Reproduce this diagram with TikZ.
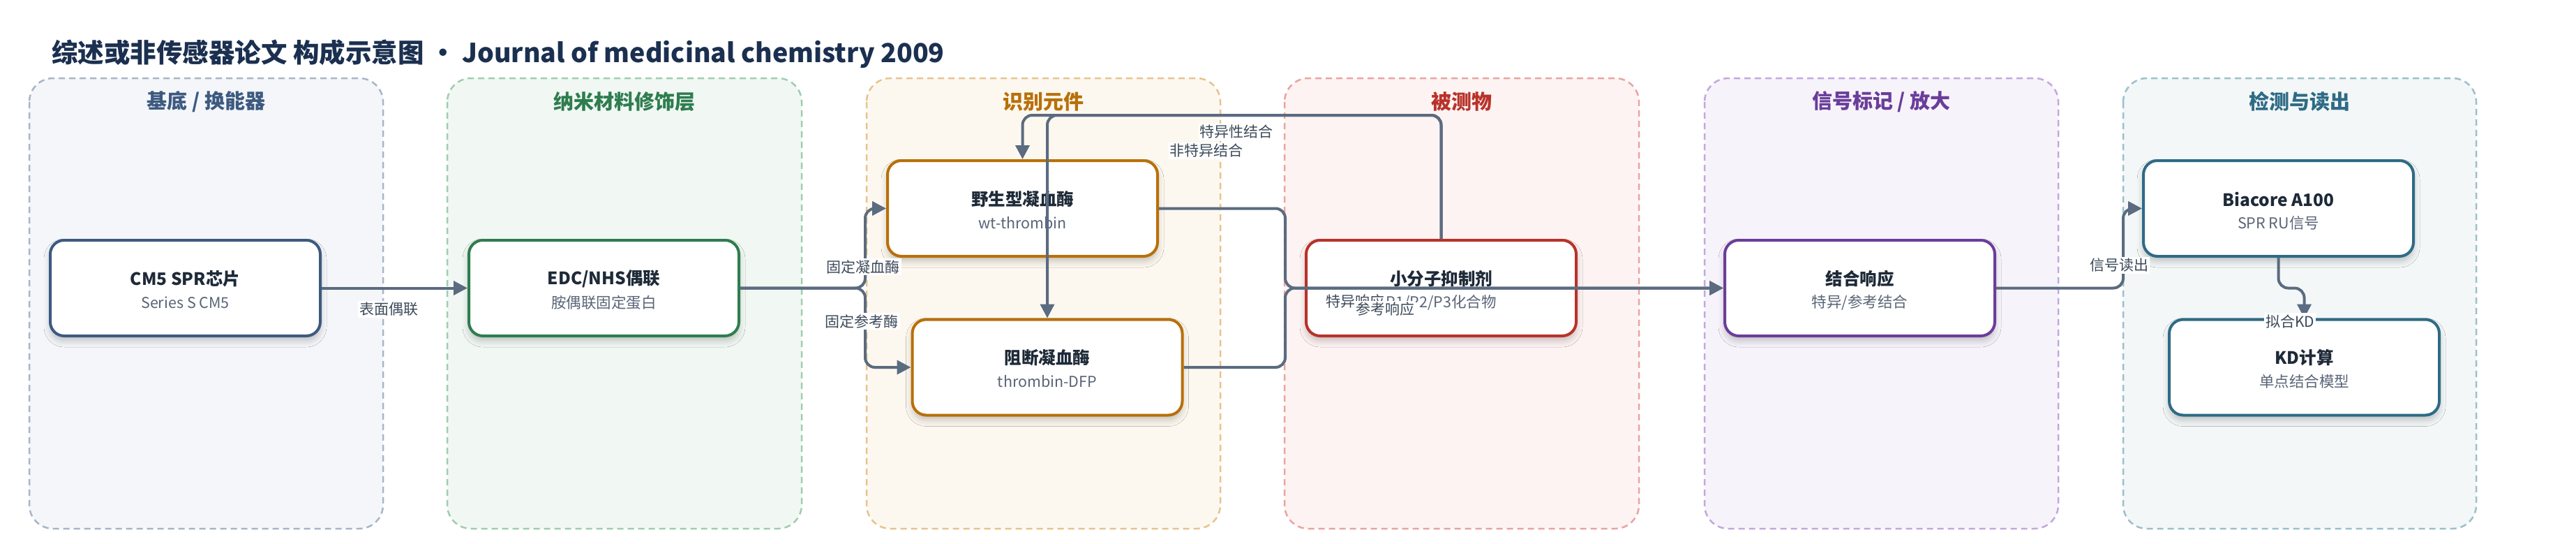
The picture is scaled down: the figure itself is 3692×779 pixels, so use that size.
\documentclass[tikz,border=0pt]{standalone}
\usepackage{fontspec}
\setmainfont{Noto Sans CJK SC}
\usetikzlibrary{arrows.meta,shadows.blur,calc}
\definecolor{titlec}{HTML}{1B3050}
\definecolor{pf1}{HTML}{F4F6FA}\definecolor{pb1}{HTML}{A8B5C8}\definecolor{pt1}{HTML}{3D5A80}
\definecolor{pf2}{HTML}{F1F8F3}\definecolor{pb2}{HTML}{9FCDB0}\definecolor{pt2}{HTML}{2E7D4F}
\definecolor{pf3}{HTML}{FDF8EF}\definecolor{pb3}{HTML}{E6C48F}\definecolor{pt3}{HTML}{B8700A}
\definecolor{pf4}{HTML}{FDF3F2}\definecolor{pb4}{HTML}{E8A5A0}\definecolor{pt4}{HTML}{B8322A}
\definecolor{pf5}{HTML}{F7F3FB}\definecolor{pb5}{HTML}{C3A8DC}\definecolor{pt5}{HTML}{6A3D9A}
\definecolor{pf6}{HTML}{F3F7F8}\definecolor{pb6}{HTML}{9CBFCC}\definecolor{pt6}{HTML}{2E6B85}
\definecolor{ec}{HTML}{5B6B80}
\definecolor{ntc}{HTML}{1E2A38}
\definecolor{nsc}{HTML}{5A6577}
\definecolor{lc}{HTML}{3D4A5A}
\newcommand{\mkbox}[7]{%
  \node[nbox, draw=#4] (#1) at (#2,#3) {};
  \node[ntitle] (#1t) at ($(#1)+(0,-13.5)$) {#5};
  \node[nsub] (#1s) at ($(#1)+(0,20.5)$) {#6};
}
\begin{document}
\begin{tikzpicture}[x=1pt,y=-1pt,
  panel/.style={line width=2.5pt, dash pattern=on 9pt off 6pt, rounded corners=34pt},
  ptitle/.style={font=\fontsize{29}{34}\selectfont\bfseries, inner sep=0pt},
  nbox/.style={line width=4pt, fill=white, rounded corners=20pt, minimum width=387pt, minimum height=137pt, inner sep=0pt,
     blur shadow={shadow xshift=0pt, shadow yshift=-7pt, shadow blur radius=9pt, shadow opacity=22}},
  ntitle/.style={font=\fontsize{24.5}{28}\selectfont\bfseries, text=ntc, inner sep=0pt},
  nsub/.style={font=\fontsize{21.5}{24}\selectfont, text=nsc, inner sep=0pt},
  conn/.style={draw=ec, line width=4pt, rounded corners=14pt, -{Triangle[length=20pt,width=20pt]}},
  elabel/.style={fill=white, inner sep=2pt, text=lc, font=\fontsize{21}{24}\selectfont}]
\useasboundingbox (0,0) rectangle (3692,779);
\fill[white] (0,0) rectangle (3692,779);

\node[anchor=west, font=\fontsize{37.5}{42}\selectfont\bfseries, text=titlec, inner sep=0pt] (title) at (74,77)
  {综述或非传感器论文 构成示意图 • Journal of medicinal chemistry 2009};

% panels
\draw[panel, draw=pb1, fill=pf1] (42,112) rectangle (549,757);
\draw[panel, draw=pb2, fill=pf2] (641,112) rectangle (1149,757);
\draw[panel, draw=pb3, fill=pf3] (1242,112) rectangle (1749,757);
\draw[panel, draw=pb4, fill=pf4] (1841,112) rectangle (2349,757);
\draw[panel, draw=pb5, fill=pf5] (2443,112) rectangle (2950,757);
\draw[panel, draw=pb6, fill=pf6] (3043,112) rectangle (3549,757);
\node[ptitle, text=pt1] (p1) at (295.5,145.5) {基底 / 换能器};
\node[ptitle, text=pt2] (p2) at (895,145.5) {纳米材料修饰层};
\node[ptitle, text=pt3] (p3) at (1495.5,145.5) {识别元件};
\node[ptitle, text=pt4] (p4) at (2095,145.5) {被测物};
\node[ptitle, text=pt5] (p5) at (2696.5,145.5) {信号标记 / 放大};
\node[ptitle, text=pt6] (p6) at (3296,145.5) {检测与读出};

% nodes
\mkbox{cm5}{265.5}{412.5}{pt1}{CM5 SPR芯片}{Series S CM5}{}
\mkbox{edc}{865.5}{412.5}{pt2}{EDC/NHS偶联}{胺偶联固定蛋白}{}
\mkbox{wt}{1465.5}{298.5}{pt3}{野生型凝血酶}{wt-thrombin}{}
\mkbox{dfp}{1501}{526}{pt3}{阻断凝血酶}{thrombin-DFP}{}
\mkbox{inh}{2065.5}{412.5}{pt4}{小分子抑制剂}{P1/P2/P3化合物}{}
\mkbox{bind}{2665.5}{412.5}{pt5}{结合响应}{特异/参考结合}{}
\mkbox{bia}{3265.5}{298.5}{pt6}{Biacore A100}{SPR RU信号}{}
\mkbox{kd}{3302.5}{526}{pt6}{KD计算}{单点结合模型}{}

% connectors
\coordinate (j1) at (1240,412.5);
\coordinate (j2) at (1842,412.5);
\coordinate (t1) at (2065.5,165);
\coordinate (j3) at (3043,412.5);
\coordinate (j4) at (3265.5,412.5);
\draw[conn] (cm5.east) -- (edc.west);
\draw[conn] (edc.east) -- (j1) |- (wt.west);
\draw[conn] (edc.east) -- (j1) |- (dfp.west);
\draw[conn] (wt.east) -| (j2) -- (bind.west);
\draw[conn] (dfp.east) -| (j2) -- (bind.west);
\draw[conn] (inh.north) -- (t1) -| (wt.north);
\draw[conn] (inh.north) -- (t1) -| (dfp.north);
\draw[conn] (bind.east) -- (j3) |- (bia.west);
\draw[conn] (bia.south) -- (j4) -| (kd.north);

% labels
\node[elabel] (l1) at (557,443) {表面偶联};
\node[elabel] (l2) at (1237,382) {固定凝血酶};
\node[elabel] (l3) at (1235,460) {固定参考酶};
\node[elabel] (l4) at (1772,189) {特异性结合};
\node[elabel] (l5) at (1729,216) {非特异结合};
\node[elabel] (l6) at (1942,432) {特异响应};
\node[elabel] (l7) at (1985,443) {参考响应};
\node[elabel] (l8) at (3037,380) {信号读出};
\node[elabel] (l9) at (3282,460) {拟合KD};
\end{tikzpicture}
\end{document}
